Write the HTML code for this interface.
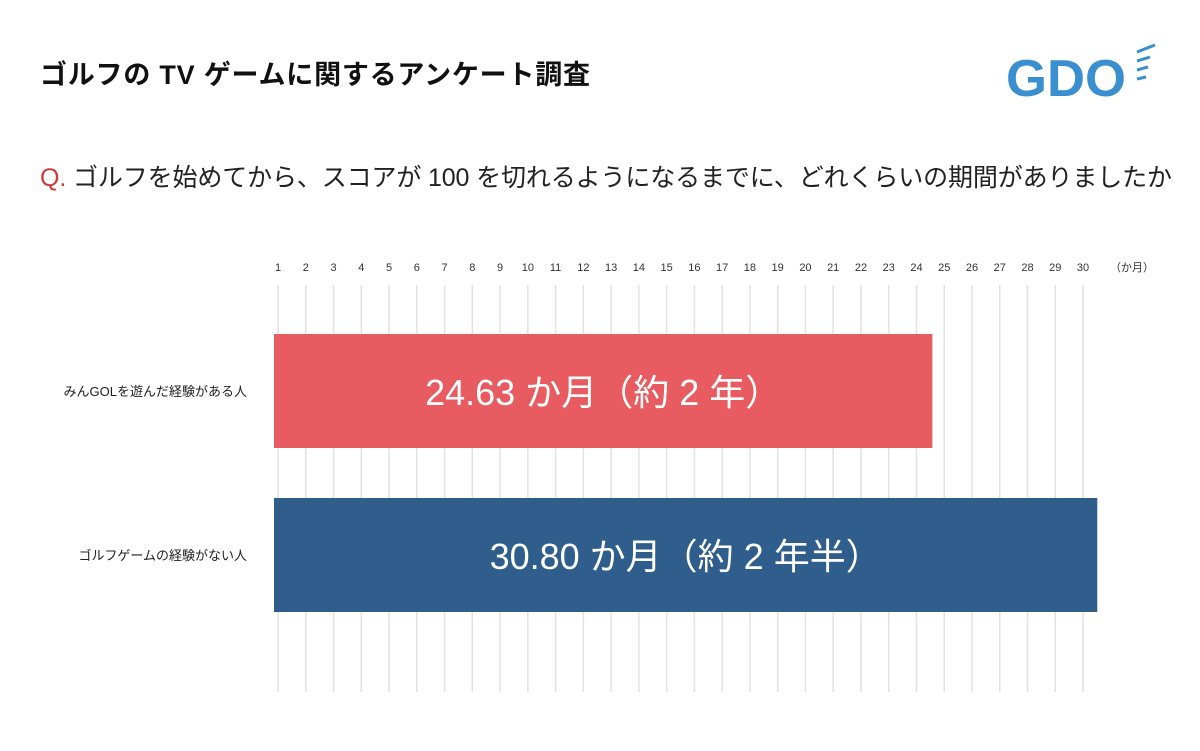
<!DOCTYPE html>
<html><head><meta charset="utf-8"><style>
body{margin:0;width:1200px;height:746px;background:#fff;overflow:hidden;font-family:"Liberation Sans","Noto Sans CJK JP",sans-serif;}
</style></head><body>
<svg width="1200" height="746" xmlns="http://www.w3.org/2000/svg" style="font-family:'Liberation Sans','Noto Sans CJK JP',sans-serif">
<text x="40" y="84" font-size="27" font-weight="bold" fill="#111" textLength="550" lengthAdjust="spacing">ゴルフの TV ゲームに関するアンケート調査</text>
<g>
<text x="1006" y="96" font-size="52" font-weight="bold" fill="#3a8fd0" textLength="120" lengthAdjust="spacingAndGlyphs">GDO</text>
<line x1="1137" y1="52" x2="1155" y2="45" stroke="#3a8fd0" stroke-width="3"/>
<line x1="1137" y1="61" x2="1150" y2="57" stroke="#3a8fd0" stroke-width="3"/>
<line x1="1137" y1="70" x2="1148" y2="67" stroke="#3a8fd0" stroke-width="3"/>
<line x1="1137" y1="79" x2="1146" y2="77" stroke="#3a8fd0" stroke-width="3"/>
</g>
<text x="40" y="186" font-size="25" fill="#222" textLength="1132" lengthAdjust="spacing"><tspan fill="#d0393b">Q.</tspan> ゴルフを始めてから、スコアが 100 を切れるようになるまでに、どれくらいの期間がありましたか</text>
<g id="grid"></g>
<g id="bars"></g>
<text x="1110" y="271" font-size="11" fill="#333">（か月）</text>
<text x="247" y="396" font-size="13" text-anchor="end" fill="#222">みんGOLを遊んだ経験がある人</text>
<text x="247" y="560" font-size="13" text-anchor="end" fill="#222">ゴルフゲームの経験がない人</text>
</svg>
<script>
const categories=["みんGOLを遊んだ経験がある人","ゴルフゲームの経験がない人"];
const values=[24.63,30.80];
const barLabels=["24.63 か月（約 2 年）","30.80 か月（約 2 年半）"];
const colors=["#e85c61","#2f5d8c"];
const ticks=[1,2,3,4,5,6,7,8,9,10,11,12,13,14,15,16,17,18,19,20,21,22,23,24,25,26,27,28,29,30];
const NS="http://www.w3.org/2000/svg";
function xv(v){return 274+v*26.73;}
function xt(i){return 278+(i-1)*27.76;}
function yb(i){return 334+i*164;}
const grid=document.getElementById('grid'),bars=document.getElementById('bars');
ticks.forEach(t=>{
 const l=document.createElementNS(NS,'line');
 l.setAttribute('x1',xt(t));l.setAttribute('x2',xt(t));l.setAttribute('y1',285);l.setAttribute('y2',692);
 l.setAttribute('stroke','#e2e2e2');l.setAttribute('stroke-width','1.5');
 
 
 grid.appendChild(l);
 const tx=document.createElementNS(NS,'text');
 tx.setAttribute('x',xt(t));tx.setAttribute('y',271);tx.setAttribute('font-size','11');tx.setAttribute('text-anchor','middle');tx.setAttribute('fill','#333');
 tx.textContent=t;
 
 
 grid.appendChild(tx);
});
values.forEach((v,i)=>{
 const r=document.createElementNS(NS,'rect');
 r.setAttribute('x',274);r.setAttribute('y',yb(i));r.setAttribute('width',xv(v)-274);r.setAttribute('height',114);r.setAttribute('fill',colors[i]);
 
 
 bars.appendChild(r);
 const t=document.createElementNS(NS,'text');
 t.setAttribute('x',(274+xv(v))/2);t.setAttribute('y',yb(i)+71);t.setAttribute('font-size','36');t.setAttribute('text-anchor','middle');t.setAttribute('fill','#fff');
 t.textContent=barLabels[i];
 
 
 bars.appendChild(t);
});
</script>
</body></html>
